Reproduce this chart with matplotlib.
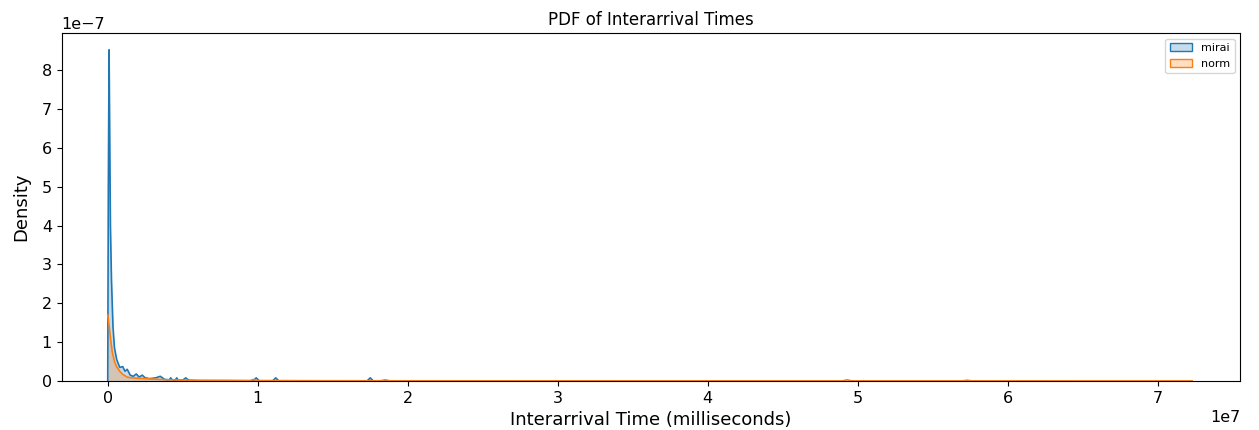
import numpy as np
import matplotlib.pyplot as plt
from matplotlib.colors import to_rgb
from matplotlib.patches import Patch

# interarrival time (x 1e7 ms) and estimated density (x 1e-7)
mirai_x = [0.0, 0.004, 0.009, 0.013, 0.018, 0.025, 0.035, 0.045, 0.06, 0.08,
           0.1, 0.115, 0.13, 0.15, 0.17, 0.19, 0.21, 0.23, 0.25, 0.28,
           0.32, 0.35, 0.38, 0.41, 0.42, 0.43, 0.45, 0.46, 0.47, 0.5,
           0.52, 0.54, 0.6, 0.8, 0.97, 0.99, 1.01, 1.10, 1.12, 1.14,
           1.4, 1.73, 1.75, 1.77, 2.0, 2.33]
mirai_y = [0.0, 5.0, 8.52, 6.5, 4.0, 2.6, 1.4, 0.85, 0.55, 0.35,
           0.37, 0.25, 0.3, 0.15, 0.12, 0.18, 0.1, 0.15, 0.08, 0.06,
           0.08, 0.12, 0.04, 0.03, 0.08, 0.03, 0.02, 0.08, 0.02, 0.02,
           0.08, 0.02, 0.01, 0.01, 0.005, 0.08, 0.005, 0.005, 0.08, 0.005,
           0.004, 0.004, 0.08, 0.004, 0.003, 0.003]

norm_x = [0.0, 0.01, 0.02, 0.03, 0.045, 0.06, 0.08, 0.1, 0.13, 0.16,
          0.2, 0.25, 0.3, 0.35, 0.4, 0.5, 0.6, 0.8, 0.95, 0.97,
          0.99, 1.2, 1.5, 1.82, 1.85, 1.88, 2.5, 3.5, 4.5, 4.9,
          4.93, 4.96, 5.3, 5.7, 5.73, 5.76, 6.5, 7.23]
norm_y = [1.70, 1.4, 1.05, 0.75, 0.5, 0.36, 0.25, 0.17, 0.1, 0.08,
          0.07, 0.06, 0.05, 0.04, 0.03, 0.02, 0.015, 0.01, 0.01, 0.04,
          0.01, 0.008, 0.006, 0.005, 0.03, 0.005, 0.004, 0.003, 0.003, 0.003,
          0.03, 0.003, 0.003, 0.003, 0.02, 0.003, 0.002, 0.002]

series = [("mirai", mirai_x, mirai_y, "#1f77b4"),
          ("norm", norm_x, norm_y, "#ff7f0e")]

fig = plt.figure(figsize=(12.59, 4.30), dpi=100)
ax = fig.add_axes([0.049, 0.114, 0.936, 0.809])

for name, xs, ys, color in series:
    x = np.array(xs) * 1e7
    y = np.array(ys) * 1e-7
    ax.fill_between(x, 0, y, color=color, alpha=0.25, linewidth=0)
    ax.plot(x, y, color=color, linewidth=1.2)

leg_handles = [Patch(facecolor=(*to_rgb(c), 0.25), edgecolor=c, label=n)
               for n, _, _, c in series]
ax.legend(handles=leg_handles, loc="upper right", fontsize=8)

ax.set_xlim(-0.307e7, 7.55e7)
ax.set_ylim(0, 8.95e-7)
ax.set_title("PDF of Interarrival Times", fontsize=12)
ax.set_xlabel("Interarrival Time (milliseconds)", fontsize=13)
ax.set_ylabel("Density", fontsize=13, labelpad=8)
ax.tick_params(labelsize=11.5)
ax.xaxis.get_offset_text().set_fontsize(11.5)
ax.yaxis.get_offset_text().set_fontsize(11.5)

fig.savefig("out.png", dpi=100)
